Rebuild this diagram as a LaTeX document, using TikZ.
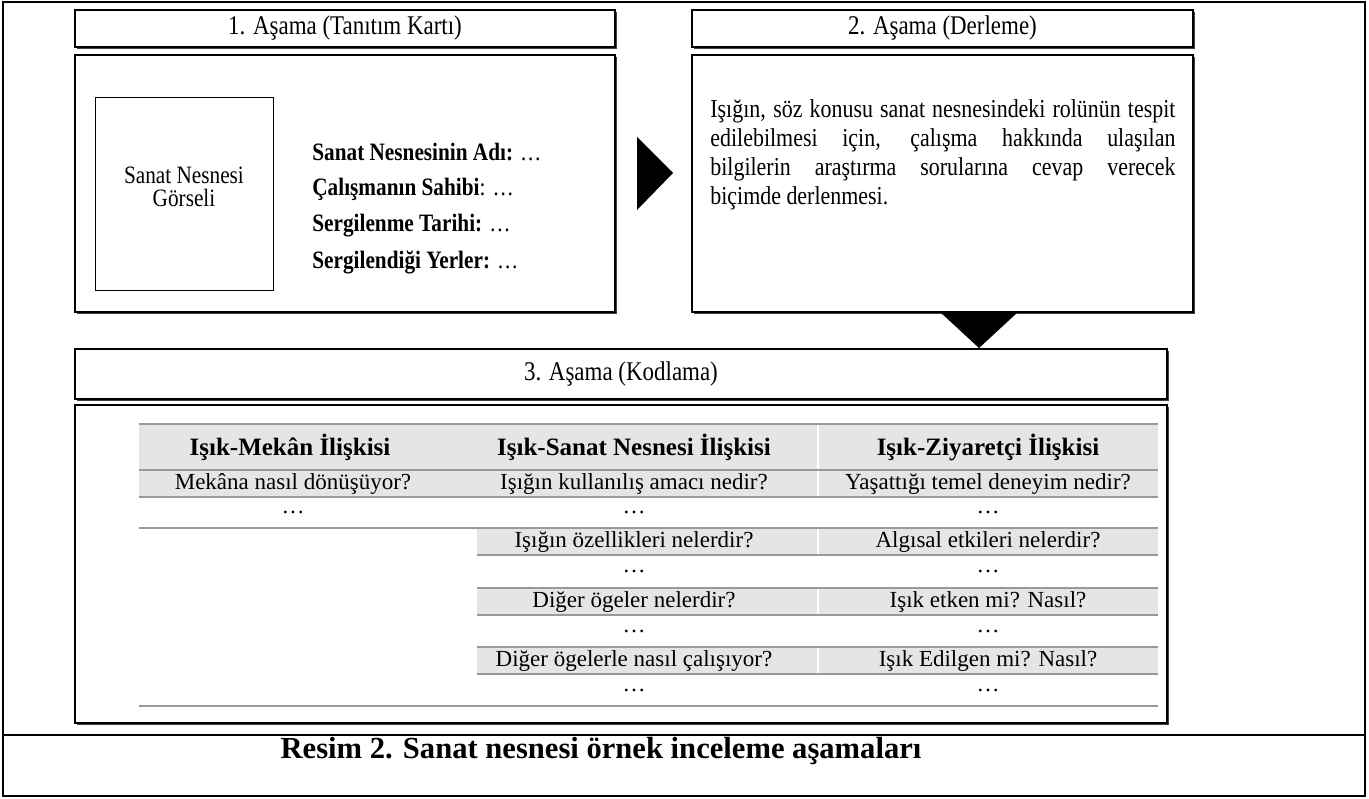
\documentclass[tikz,border=0pt]{standalone}
\usepackage{fontspec}
\setmainfont{Liberation Serif}
\newfontfamily\cond[FakeStretch=0.85]{Liberation Serif}
\usetikzlibrary{shadows}
\begin{document}
\begin{tikzpicture}[x=0.5pt,y=-0.5pt,
  box/.style={draw=black, line width=1.1pt, fill=white, inner sep=0pt,
    drop shadow={shadow xshift=0.8pt, shadow yshift=-0.8pt, fill=black!75, opacity=1}},
  frame/.style={draw=black, line width=1pt},
  tri/.style={fill=black, draw=none},
  lbl/.style={font=\cond\fontsize{12.5}{14}\selectfont\bfseries, anchor=west, inner sep=0pt},
  hdr/.style={font=\cond\fontsize{13.5}{15}\selectfont},
  cell/.style={font=\fontsize{11.5}{13}\selectfont, inner sep=0pt},
  hcell/.style={font=\fontsize{12.5}{14}\selectfont\bfseries, inner sep=0pt},
  gline/.style={draw=black!40, line width=0.7pt},
  gfill/.style={fill=black!10, draw=none}
]
\useasboundingbox (0,0) rectangle (1369,798);
% outer frame
\draw[frame] (3,2) rectangle (1365,796);
\draw[frame] (3,735) -- (1365,735);
\node[font=\fontsize{15.3}{17}\selectfont\bfseries] (cap) at (601,751) {Resim 2. Sanat nesnesi örnek inceleme aşamaları};

% stage 1
\node[box, hdr, minimum width=270pt, minimum height=18.5pt] (h1) at (345,28.5) {1. Aşama (Tanıtım Kartı)};
\node[box, minimum width=270pt, minimum height=128.5pt] (b1) at (345,183.5) {};
\node[draw=black, line width=0.5pt, minimum width=89pt, minimum height=96.5pt, inner sep=0pt,
  align=center, font=\cond\fontsize{12.5}{11.5}\selectfont] (img) at (184,193.5) {};
\node[align=center, inner sep=0pt, font=\cond\fontsize{12.5}{11.5}\selectfont] (imgtxt) at (184,186.5) {Sanat Nesnesi\\Görseli};
\node[lbl] (l1) at (312,152) {Sanat Nesnesinin Adı: \mdseries …};
\node[lbl] (l2) at (312,189) {Çalışmanın Sahibi\mdseries: …};
\node[lbl] (l3) at (312,226) {Sergilenme Tarihi: \mdseries …};
\node[lbl] (l4) at (312,262) {Sergilendiği Yerler: \mdseries …};

% arrow 1 -> 2
\coordinate (t1a) at (637,137);
\coordinate (t1b) at (637,210);
\coordinate (t1c) at (673,173);
\fill[tri] (t1a) -- (t1c) -- (t1b) -- cycle;

% stage 2
\node[box, hdr, minimum width=250.5pt, minimum height=18.5pt] (h2) at (942.5,28.5) {2. Aşama (Derleme)};
\node[box, minimum width=250.5pt, minimum height=128.5pt] (b2) at (942.5,183.5) {};
\node[anchor=north west, inner sep=0pt, text width=232.5pt, align=justify,
  font=\cond\fontsize{12.9}{14.5}\selectfont] (t2) at (710,99)
  {\hyphenpenalty=10000 Işığın, söz konusu sanat nesnesindeki rolünün tespit\linebreak
   edilebilmesi için, çalışma hakkında ulaşılan\linebreak
   bilgilerin araştırma sorularına cevap verecek\linebreak
   biçimde derlenmesi.};

% arrow 2 -> 3
\coordinate (t2a) at (940,312);
\coordinate (t2b) at (1018,312);
\coordinate (t2c) at (979,348);
\fill[tri] (t2a) -- (t2b) -- (t2c) -- cycle;

% stage 3
\node[box, hdr, minimum width=546pt, minimum height=25pt] (h3) at (621,374) {3. Aşama (Kodlama)};
\node[box, minimum width=546pt, minimum height=159pt] (b3) at (621,564) {};

% table fills
\fill[gfill] (139,424) rectangle (1158,470);
\fill[gfill] (139,470) rectangle (1158,497);
\fill[gfill] (477,528) rectangle (1158,555);
\fill[gfill] (477,588) rectangle (1158,615);
\fill[gfill] (477,647) rectangle (1158,674);
\foreach \a/\b in {424/497,528/555,588/615,647/674}
  \draw[white, line width=0.7pt] (818,\a) -- (818,\b);
% table lines
\foreach \y in {424,470,497,528,706}
  \draw[gline] (139,\y) -- (1158,\y);
\foreach \y in {555,588,615,647,674}
  \draw[gline] (477,\y) -- (1158,\y);

% table text
\node[hcell] (c11) at (290,447) {Işık-Mekân İlişkisi};
\node[hcell] (c12) at (634,447) {Işık-Sanat Nesnesi İlişkisi};
\node[hcell] (c13) at (988,447) {Işık-Ziyaretçi İlişkisi};
\node[cell] (r11) at (293,483.5) {Mekâna nasıl dönüşüyor?};
\node[cell] (r12) at (634,483.5) {Işığın kullanılış amacı nedir?};
\node[cell] (r13) at (988,483.5) {Yaşattığı temel deneyim nedir?};
\node[cell] (r21) at (293,512.5) {…};
\node[cell] (r22) at (634,512.5) {…};
\node[cell] (r23) at (988,512.5) {…};
\node[cell] (r32) at (634,541.5) {Işığın özellikleri nelerdir?};
\node[cell] (r33) at (988,541.5) {Algısal etkileri nelerdir?};
\node[cell] (r42) at (634,571.5) {…};
\node[cell] (r43) at (988,571.5) {…};
\node[cell] (r52) at (634,601.5) {Diğer ögeler nelerdir?};
\node[cell] (r53) at (988,601.5) {Işık etken mi? Nasıl?};
\node[cell] (r62) at (634,631) {…};
\node[cell] (r63) at (988,631) {…};
\node[cell] (r72) at (634,660.5) {Diğer ögelerle nasıl çalışıyor?};
\node[cell] (r73) at (988,660.5) {Işık Edilgen mi? Nasıl?};
\node[cell] (r82) at (634,690) {…};
\node[cell] (r83) at (988,690) {…};
\end{tikzpicture}
\end{document}
